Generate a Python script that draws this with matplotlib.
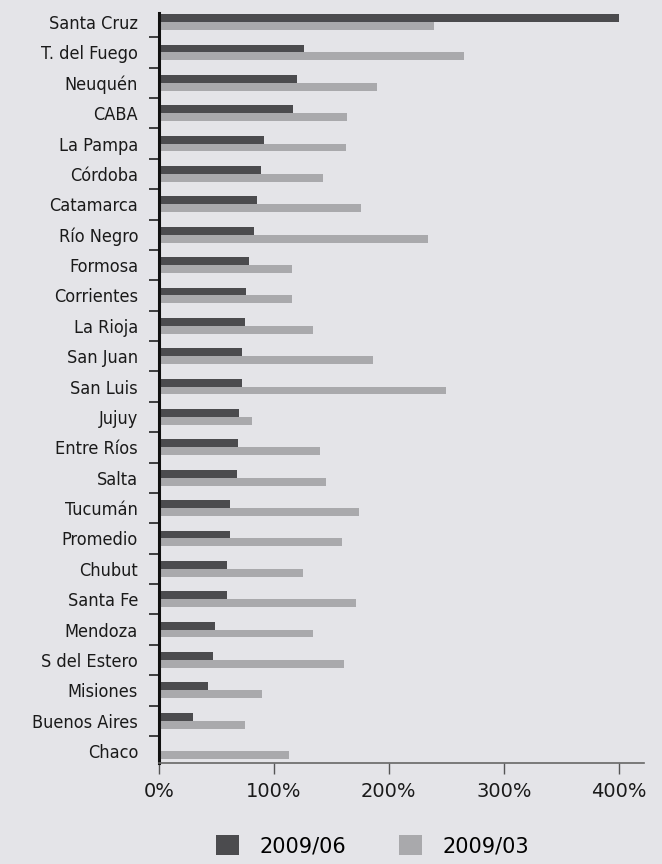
import matplotlib.pyplot as plt
import numpy as np
from matplotlib.patches import Patch

# Variación por provincia (%), dos períodos
provincias = ["Santa Cruz", "T. del Fuego", "Neuquén", "CABA", "La Pampa", "Córdoba",
              "Catamarca", "Río Negro", "Formosa", "Corrientes", "La Rioja", "San Juan",
              "San Luis", "Jujuy", "Entre Ríos", "Salta", "Tucumán", "Promedio", "Chubut",
              "Santa Fe", "Mendoza", "S del Estero", "Misiones", "Buenos Aires", "Chaco"]
v_2009_06 = [400, 126, 120, 117, 91, 89, 85, 83, 78, 76, 75, 72, 72, 70, 69, 68,
             62, 62, 59, 59, 49, 47, 43, 30, 0]
v_2009_03 = [239, 265, 190, 164, 163, 143, 176, 234, 116, 116, 134, 186, 250, 81,
             140, 145, 174, 159, 125, 171, 134, 161, 90, 75, 113]
ticks_x = [0, 100, 200, 300, 400]

BG = "#e4e4e8"
DARK = "#4b4b4e"
LIGHT = "#a9a9ac"

fig = plt.figure(figsize=(6.62, 8.64), dpi=100, facecolor=BG)
ax = fig.add_axes([0.240, 0.117, 0.733, 0.868], facecolor=BG)

y = np.arange(len(provincias))
h = 0.26
ax.barh(y - h / 2, v_2009_06, height=h, color=DARK, zorder=2)
ax.barh(y + h / 2, v_2009_03, height=h, color=LIGHT, zorder=2)

ax.set_ylim(len(provincias) - 1 + 0.39, -0.3)
ax.set_xlim(0, 422)

# etiquetas de provincias, tipografía angosta
ax.set_yticks(y)
ax.set_yticklabels(provincias, family="DejaVu Sans", fontstretch="condensed",
                   fontsize=13, color="#1a1a1a")
ax.tick_params(axis="y", which="major", length=0, pad=15)
ax.set_yticks(y[:-1] + 0.5, minor=True)
ax.tick_params(axis="y", which="minor", length=7, width=1.2, color="#222222",
               direction="out")

ax.set_xticks(ticks_x)
ax.set_xticklabels([f"{t}%" for t in ticks_x], fontsize=14, color="#1a1a1a",
                   family="DejaVu Sans")
ax.tick_params(axis="x", length=8, width=1, color="#555555", pad=6)

for s in ["top", "right"]:
    ax.spines[s].set_visible(False)
ax.spines["left"].set_linewidth(2.2)
ax.spines["left"].set_color("#111111")
ax.spines["bottom"].set_linewidth(1.2)
ax.spines["bottom"].set_color("#666666")

handles = [Patch(facecolor=DARK, label="2009/06"),
           Patch(facecolor=LIGHT, label="2009/03")]
fig.legend(handles=handles, loc="center", bbox_to_anchor=(0.563, 0.021),
           ncol=2, frameon=False, handlelength=1.1, handleheight=1.1,
           columnspacing=2.5, handletextpad=1.0,
           prop={"family": "DejaVu Sans", "size": 15})

fig.savefig("out.png", dpi=100, facecolor=BG)
